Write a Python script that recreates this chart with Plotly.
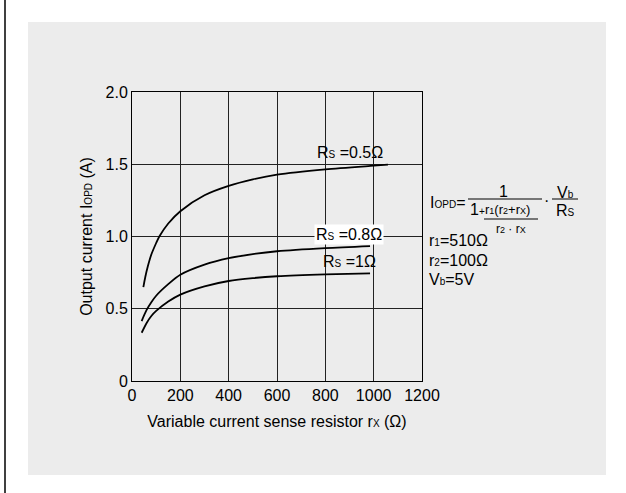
import plotly.graph_objects as go

# ---- data ----
rx_05 = [47, 55, 65, 80, 100, 113, 150, 200, 300, 400, 500, 600, 800, 1000, 1059]
i_05 = [0.65, 0.72, 0.79, 0.875, 0.955, 1.0, 1.09, 1.175, 1.285, 1.35, 1.395, 1.428, 1.465, 1.49, 1.497]

rx_08 = [40, 60, 80, 100, 150, 200, 300, 400, 500, 600, 800, 985]
i_08 = [0.415, 0.49, 0.545, 0.59, 0.67, 0.735, 0.805, 0.85, 0.878, 0.898, 0.92, 0.934]

rx_10 = [40, 60, 80, 100, 150, 200, 300, 400, 500, 600, 800, 985]
i_10 = [0.334, 0.40, 0.45, 0.485, 0.55, 0.598, 0.655, 0.692, 0.712, 0.725, 0.738, 0.745]

x_ticks = [0, 200, 400, 600, 800, 1000, 1200]
y_ticks = [0, 0.5, 1.0, 1.5, 2.0]
y_ticktext = ["0", "0.5", "1.0", "1.5", "2.0"]

FONT = "Arial, Liberation Sans, sans-serif"
FS = 16
SM = "<span style='font-size:10px'>{}</span>"

fig = go.Figure()
for xs, ys in [(rx_05, i_05), (rx_08, i_08), (rx_10, i_10)]:
    fig.add_trace(go.Scatter(x=xs, y=ys, mode="lines",
                             line=dict(color="black", width=1.8, shape="spline", smoothing=0.8),
                             showlegend=False, hoverinfo="skip"))

# plot-area geometry (px) -> paper coords
L, R, T, B = 132, 422, 92, 381
W, H = R - L, B - T
def px(x):
    return (x - L) / W
def py(y):
    return (B - y) / H

shapes = [
    dict(type="rect", xref="paper", yref="paper", x0=px(28), x1=px(606), y0=py(475), y1=py(22),
         fillcolor="#ececec", line=dict(width=0), layer="below"),
    dict(type="line", xref="paper", yref="paper", x0=px(5), x1=px(5), y0=py(493), y1=py(0),
         line=dict(color="black", width=1.5)),
    # formula fraction bars
    dict(type="line", xref="paper", yref="paper", x0=px(468), x1=px(542), y0=py(199), y1=py(199),
         line=dict(color="black", width=1)),
    dict(type="line", xref="paper", yref="paper", x0=px(484), x1=px(538), y0=py(219), y1=py(219),
         line=dict(color="black", width=1)),
    dict(type="line", xref="paper", yref="paper", x0=px(552), x1=px(578), y0=py(199), y1=py(199),
         line=dict(color="black", width=1)),
]

ann = []
def A(text, x, y, xa="left", size=FS, xref="paper", yref="paper", bg=None):
    d = dict(text=text, x=x, y=y, xref=xref, yref=yref, xanchor=xa, yanchor="middle",
             showarrow=False, font=dict(family=FONT, size=size, color="black"))
    if bg:
        d.update(bgcolor=bg, borderpad=1)
    ann.append(d)

# curve labels (data coords)
A("R" + SM.format("S") + " =0.5Ω", 902, 1.583, xa="center", xref="x", yref="y")
A("R" + SM.format("S") + " =0.8Ω", 898, 1.015, xa="center", xref="x", yref="y", bg="white")
A("R" + SM.format("S") + " =1Ω", 899, 0.826, xa="center", xref="x", yref="y")

# formula
S9 = "<span style='font-size:9px'>{}</span>"
A("I" + SM.format("OPD") + "=", px(428), py(202))
A("1", px(504), py(191.5), xa="center")
A("1<span style='font-size:10px'>+</span>", px(468), py(209.5))
A("r" + S9.format("1") + "(r" + S9.format("2") + "+r" + S9.format("X") + ")", px(483), py(209), size=13)
A("r" + S9.format("2") + " · r" + S9.format("X"), px(511), py(229), xa="center", size=12)
A("·", px(546), py(200), xa="center")
A("V" + SM.format("b"), px(565), py(192), xa="center")
A("R" + SM.format("S"), px(565), py(210), xa="center")
A("r" + SM.format("1") + "=510Ω", px(427), py(240))
A("r" + SM.format("2") + "=100Ω", px(427), py(260))
A("V" + SM.format("b") + "=5V", px(427), py(279.5))

axis_common = dict(showline=True, linecolor="black", linewidth=1, mirror=True,
                   showgrid=True, gridcolor="#222222", gridwidth=1, zeroline=False,
                   ticks="", tickfont=dict(family=FONT, size=FS, color="black"))

fig.update_layout(
    width=626, height=493,
    margin=dict(l=L, r=626 - R, t=T, b=493 - B, autoexpand=False),
    paper_bgcolor="white", plot_bgcolor="white",
    font=dict(family=FONT, size=FS, color="black"),
    shapes=shapes, annotations=ann,
    xaxis=dict(range=[0, 1200], tickvals=x_ticks, ticktext=[str(v) for v in x_ticks],
               title=dict(text="Variable current sense resistor r" + SM.format("X") + " (Ω)",
                          font=dict(family=FONT, size=FS), standoff=12),
               **axis_common),
    yaxis=dict(range=[0, 2.0], tickvals=y_ticks, ticktext=y_ticktext,
               title=dict(text="Output current I" + SM.format("OPD") + " (A)",
                          font=dict(family=FONT, size=FS), standoff=8),
               **axis_common),
)

fig.write_html("out.html", config={"displayModeBar": False},
               post_script="document.body.style.margin='0';")
